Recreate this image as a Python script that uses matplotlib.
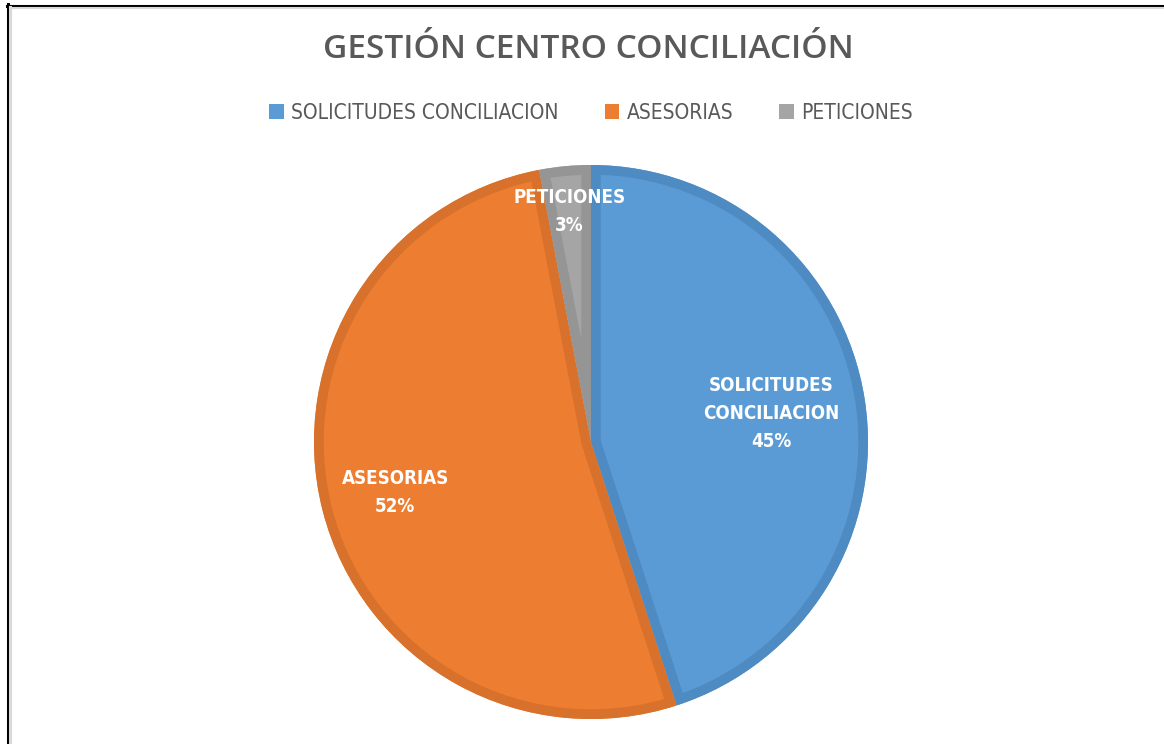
import numpy as np
import matplotlib.pyplot as plt
from matplotlib.patches import Wedge
from matplotlib.lines import Line2D

categorias = ['SOLICITUDES CONCILIACION', 'ASESORIAS', 'PETICIONES']
etiquetas = ['SOLICITUDES\nCONCILIACION', 'ASESORIAS', 'PETICIONES']
porcentajes = [45, 52, 3]
colores = ['#5B9BD5', '#ED7D31', '#A5A5A5']
bordes = ['#4F8BC3', '#D8712B', '#959595']
radios_texto = [0.66, 0.73, 0.835]

fig = plt.figure(figsize=(11.64, 7.44), dpi=100)
fig.patch.set_facecolor('white')

# marco de la imagen (borde negro arriba/izquierda con sombra gris)
fig.add_artist(Line2D([7.5/1164, 7.5/1164], [0, 1-4/744], color='black', lw=2.2))
fig.add_artist(Line2D([7/1164, 1], [1-5.5/744, 1-5.5/744], color='black', lw=2.2))
fig.add_artist(Line2D([10.5/1164, 10.5/1164], [0, 1-7/744], color='#D9D9D9', lw=2.2))
fig.add_artist(Line2D([10/1164, 1], [1-8/744, 1-8/744], color='#D9D9D9', lw=1.5))

cx, cy, r = 591, 442, 277
lado = 600
ax = fig.add_axes([(cx - lado/2)/1164, (744 - cy - lado/2)/744, lado/1164, lado/744])
lim = (lado/2) / r

wedges, _ = ax.pie(porcentajes, colors=colores, startangle=90, counterclock=False,
                   radius=1, center=(0, 0), frame=True)
ax.set_xlim(-lim, lim)
ax.set_ylim(-lim, lim)
ax.set_aspect('equal')
ax.axis('off')

for w, bc, et, p, rt in zip(wedges, bordes, etiquetas, porcentajes, radios_texto):
    borde = Wedge((0, 0), 1, w.theta1, w.theta2, facecolor='none', edgecolor=bc,
                  linewidth=14, zorder=3)
    ax.add_patch(borde)
    borde.set_clip_path(w)
    ang = np.deg2rad((w.theta1 + w.theta2) / 2)
    ax.text(rt*np.cos(ang), rt*np.sin(ang), f'{et}\n{p}%', ha='center', va='center',
            color='white', fontsize=13.5, fontweight='bold', fontstretch='condensed',
            linespacing=1.62, family='DejaVu Sans', zorder=5)

fig.text(588/1164, 1 - 50/744, 'GESTIÓN CENTRO CONCILIACIÓN', ha='center', va='center',
         fontsize=24, fontweight='semibold', color='#595959',
         family=['Open Sans', 'DejaVu Sans'])

fig.legend(wedges, categorias, loc='center', bbox_to_anchor=(591/1164, 1 - 113/744),
           ncol=3, frameon=False, handlelength=0.7, handleheight=0.7, columnspacing=2.2,
           handletextpad=0.35,
           prop={'family': 'DejaVu Sans', 'stretch': 'condensed', 'size': 15},
           labelcolor='#595959')

plt.savefig('out.png', dpi=100)
